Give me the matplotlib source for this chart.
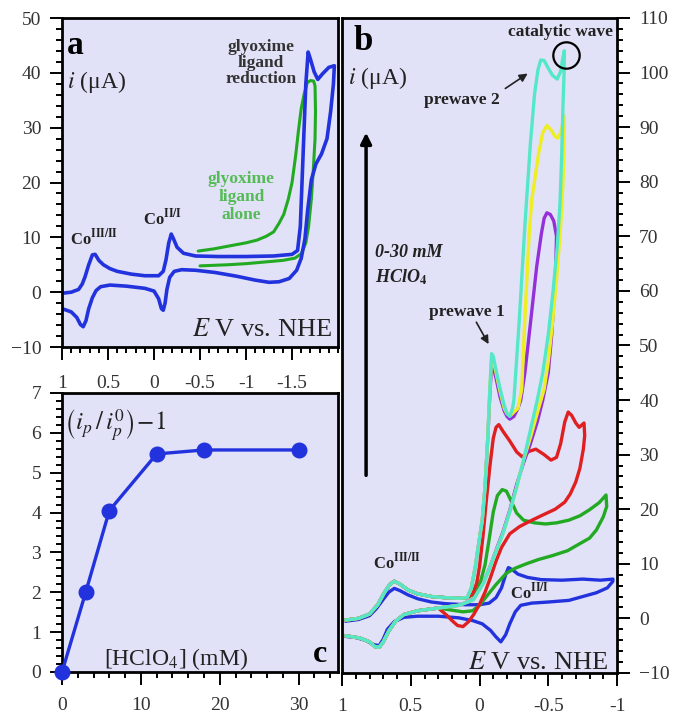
import matplotlib
matplotlib.use("Agg")
import matplotlib.pyplot as plt
from matplotlib.ticker import MultipleLocator, FixedLocator
import numpy as np

plt.rcParams['font.family'] = ['Liberation Serif', 'DejaVu Serif']
plt.rcParams['mathtext.fontset'] = 'stix'

# ---------------- Panel a data (E in V vs NHE, i in uA) ----------------
a_blue_E = [1.0, 0.90, 0.82, 0.78, 0.75, 0.71, 0.67, 0.64, 0.60, 0.55, 0.48, 0.40, 0.25, 0.10, -0.05,
            -0.10, -0.13, -0.16, -0.187, -0.21, -0.25, -0.32, -0.45, -0.70, -1.0, -1.3, -1.50, -1.56,
            -1.59, -1.62, -1.65, -1.675, -1.70, -1.74, -1.78, -1.83, -1.90, -1.96,
            -1.95, -1.92, -1.88, -1.82, -1.76, -1.71, -1.67, -1.64, -1.60, -1.55, -1.47, -1.36, -1.25,
            -1.10, -0.90, -0.66, -0.45, -0.30, -0.22, -0.17, -0.14, -0.12, -0.10, -0.08, -0.05, 0.0,
            0.1, 0.3, 0.48, 0.58, 0.63, 0.67, 0.71, 0.74, 0.77, 0.80, 0.84, 0.90, 1.0]
a_blue_i = [-0.2, 0.0, 0.5, 1.5, 2.8, 5.0, 6.8, 6.9, 5.8, 5.0, 4.3, 3.8, 3.3, 3.0, 3.0,
            3.8, 5.9, 9.0, 10.6, 9.8, 8.2, 7.1, 6.6, 6.5, 6.5, 6.6, 6.9, 7.6,
            12, 25, 38, 43.8, 42.5, 40.2, 38.8, 39.8, 41.0, 41.3,
            38, 33, 28, 25.2, 23.4, 20.5, 15, 9.7, 6.2, 4.0, 2.5, 1.9, 1.8,
            2.2, 2.9, 3.6, 4.0, 4.1, 3.8, 2.7, 0.5, -2.0, -3.3, -3.0, -1.2, 0.2,
            0.7, 1.1, 1.3, 1.0, 0.3, -1.0, -3.0, -5.2, -6.3, -5.9, -4.6, -3.6, -3.0]

a_green_E = [-0.48, -0.65, -0.84, -1.0, -1.12, -1.22, -1.30, -1.36, -1.41, -1.46, -1.50, -1.54, -1.57,
             -1.60, -1.63, -1.665, -1.70, -1.735, -1.75,
             -1.755, -1.75, -1.73, -1.71, -1.68, -1.65, -1.60, -1.53, -1.40, -1.2, -1.0, -0.8, -0.65, -0.50]
a_green_i = [7.5, 7.9, 8.5, 9.0, 9.5, 10.2, 11.0, 12.6, 14.2, 17, 20, 25, 29.5,
             33.5, 36, 38.2, 38.6, 38.5, 37.6,
             33, 28, 22, 17, 12, 9, 7.0, 6.2, 5.8, 5.5, 5.2, 5.0, 4.9, 4.8]

# ---------------- Panel b data ----------------
# 0 mM HClO4
b_blue_E = [0.97, 0.88, 0.80, 0.75, 0.70, 0.66, 0.62, 0.58, 0.52, 0.45, 0.35, 0.25, 0.10, 0.0, -0.07,
            -0.12, -0.16, -0.19, -0.21, -0.24, -0.28, -0.35, -0.45, -0.60, -0.75, -0.88, -0.97,
            -0.97, -0.93, -0.85, -0.75, -0.65, -0.50, -0.38, -0.30, -0.26, -0.22, -0.19, -0.155,
            -0.12, -0.08, -0.02, 0.05, 0.15, 0.3, 0.45, 0.55, 0.62, 0.67, 0.70, 0.73, 0.77, 0.83, 0.90, 0.97]
b_blue_i = [-0.5, -0.2, 0.5, 1.8, 3.5, 4.8, 5.5, 5.1, 4.3, 3.6, 3.0, 2.7, 2.5, 2.5, 2.8,
            3.8, 5.6, 8.0, 9.3, 8.9, 8.1, 7.5, 7.1, 7.0, 7.2, 7.0, 7.2,
            6.8, 5.6, 4.7, 4.0, 3.3, 3.0, 2.8, 2.4, 1.2, -1.0, -3.0, -4.3,
            -3.4, -2.2, -1.0, -0.4, 0.1, 0.4, 0.4, 0.2, -0.6, -2.0, -3.8, -5.0, -4.8, -4.0, -3.5, -3.3]

# shared Co(III/II) region of the acid scans
acid_start_E = [0.97, 0.88, 0.80, 0.74, 0.69, 0.65, 0.62, 0.58, 0.52, 0.45, 0.35, 0.25, 0.15, 0.09]
acid_start_i = [-0.3, 0.0, 0.8, 2.5, 4.8, 6.3, 6.8, 6.3, 5.2, 4.5, 4.0, 3.8, 3.7, 3.8]
acid_end_E = [0.30, 0.45, 0.55, 0.61, 0.66, 0.70, 0.73, 0.76, 0.80, 0.87, 0.97]
acid_end_i = [1.9, 1.4, 0.7, -0.5, -2.3, -4.3, -5.3, -5.2, -4.3, -3.6, -3.2]

# 3 mM
b_green_E = [0.05, 0.02, -0.01, -0.04, -0.07, -0.10, -0.13, -0.165, -0.196, -0.23, -0.27, -0.32, -0.40,
             -0.48, -0.56, -0.65, -0.73, -0.80, -0.87, -0.92,
             -0.925, -0.90, -0.85, -0.80, -0.73, -0.64, -0.53, -0.43, -0.34, -0.26, -0.196, -0.12,
             -0.05, 0.0, 0.05, 0.12, 0.2]
b_green_i = [4.3, 5.3, 7.0, 9.8, 14.5, 19.5, 22.5, 23.6, 23.3, 21.5, 19.3, 18.0, 17.5,
             17.3, 17.5, 18.0, 18.8, 19.9, 21.2, 22.6,
             20.5, 18.6, 16.2, 14.7, 13.7, 12.4, 11.5, 10.8, 10.0, 9.2, 8.3, 6.2,
             4.0, 2.4, 1.4, 1.2, 1.5]
# 6 mM
b_red_E = [0.05, 0.02, 0.0, -0.025, -0.05, -0.076, -0.10, -0.12, -0.14, -0.17, -0.22, -0.27, -0.31,
           -0.36, -0.41, -0.47, -0.52, -0.56, -0.59, -0.62, -0.645, -0.67, -0.70, -0.725, -0.76,
           -0.765, -0.755, -0.73, -0.70, -0.66, -0.62, -0.55, -0.44, -0.35, -0.29, -0.22, -0.16,
           -0.12, -0.08, -0.04, 0.0, 0.04, 0.08, 0.12, 0.16, 0.20, 0.24]
b_red_i = [4.5, 6.5, 9.5, 15, 21.7, 28, 33, 35, 35.5, 34.3, 32.5, 30.5, 29.6,
           30.6, 31.0, 30.0, 29.0, 29.5, 32, 36, 37.8, 37.2, 35.8, 35.0, 35.8,
           33.5, 31.0, 27.5, 25.0, 22.8, 21.3, 20.0, 18.7, 17.6, 16.8, 15.5, 13.0,
           10.5, 7.5, 4.8, 2.6, 0.8, -0.6, -1.5, -1.3, -0.4, 0.6]
# 12 mM
b_purple_E = [0.06, 0.03, 0.01, -0.02, -0.04, -0.06, -0.075, -0.088, -0.10, -0.12, -0.15, -0.18, -0.20,
              -0.22, -0.25, -0.28, -0.30, -0.33, -0.37, -0.416, -0.45, -0.47, -0.49, -0.515, -0.54, -0.56,
              -0.555, -0.545, -0.525, -0.50, -0.46, -0.42, -0.37, -0.32, -0.27, -0.22, -0.17, -0.125,
              -0.08, -0.03, 0.045, 0.15]
b_purple_i = [5.5, 9.5, 13, 18, 24, 33, 41, 46.5, 46, 44, 40.5, 38, 37,
              36.5, 37, 38.5, 40, 45, 54, 64.5, 70.5, 73.3, 74.3, 74, 72.8, 70,
              65, 60, 52, 45, 40, 36, 32, 28.5, 24.5, 19.8, 15.8, 12.8,
              9.7, 6.6, 3.5, 2.4]
# 18 mM
b_yellow_E = [0.06, 0.03, 0.01, -0.02, -0.04, -0.06, -0.075, -0.088, -0.10, -0.12, -0.15, -0.18, -0.20,
              -0.225, -0.25, -0.28, -0.307, -0.33, -0.36, -0.38, -0.43, -0.46, -0.49, -0.52, -0.55, -0.57,
              -0.59, -0.605, -0.617,
              -0.615, -0.61, -0.60, -0.585, -0.56, -0.53, -0.50, -0.47, -0.43, -0.38, -0.32, -0.27, -0.22,
              -0.17, -0.125, -0.08, -0.03, 0.045, 0.15]
b_yellow_i = [5.5, 9.5, 13, 18, 24, 33, 42, 47.8, 47.3, 45, 41.5, 38.5, 37.5,
              37.2, 37.8, 38.5, 42, 55, 70, 76.7, 85.2, 89, 90.3, 89.5, 88.3, 88,
              89, 90.5, 92,
              88, 82, 76, 70, 62, 54, 47, 42, 38.5, 34, 29, 24, 19.5,
              15.5, 12.6, 9.6, 6.5, 3.4, 2.4]
# 30 mM
b_cyan_E = [0.06, 0.03, 0.01, -0.02, -0.04, -0.06, -0.075, -0.088, -0.10, -0.12, -0.15, -0.18, -0.20,
            -0.22, -0.24, -0.25, -0.29, -0.33, -0.37, -0.40, -0.425, -0.445, -0.47, -0.50, -0.53, -0.565,
            -0.59, -0.605, -0.617,
            -0.615, -0.607, -0.598, -0.585, -0.565, -0.535, -0.50, -0.46, -0.42, -0.37, -0.32, -0.27,
            -0.22, -0.17, -0.125, -0.08, -0.03, 0.045, 0.15]
b_cyan_i = [5.5, 9.5, 13, 18, 24, 33, 42, 48.5, 48, 45.5, 42, 39, 37.5,
            37, 38.5, 40, 55, 72, 87, 96, 100.5, 102.3, 102.2, 100.8, 99.5, 98.8,
            100.2, 102.5, 104,
            100, 94, 85, 76, 68, 60, 52, 45, 40, 34.5, 29, 24,
            19.5, 15.5, 12.6, 9.6, 6.5, 3.4, 2.4]

# ---------------- Panel c data ----------------
c_conc = [0, 3, 6, 12, 18, 30]
c_ratio = [0.0, 2.0, 4.05, 5.47, 5.57, 5.57]

# ---------------- styling ----------------
BG = '#E1E1F7'
BLUE = '#2233DD'
GREEN = '#22AA22'
RED = '#E02020'
PURPLE = '#9430D8'
YELLOW = '#EEEE22'
CYAN = '#55E8C8'
TXT = '#222222'
TICKC = '#333333'

fig = plt.figure(figsize=(6.75, 7.18), dpi=100)
ax_a = fig.add_axes([0.0919, 0.5167, 0.4089, 0.4582])
ax_c = fig.add_axes([0.0919, 0.0641, 0.4089, 0.3886])
ax_b = fig.add_axes([0.5067, 0.0627, 0.4074, 0.9123])

for ax in (ax_a, ax_b, ax_c):
    ax.set_facecolor(BG)
    for s in ax.spines.values():
        s.set_linewidth(2.0)
        s.set_color('black')
    ax.tick_params(which='both', direction='out', width=1.4, colors='black',
                   labelcolor=TICKC, labelsize=14)
    ax.tick_params(which='major', length=9)
    ax.tick_params(which='minor', length=4.5)

# ---- panel a ----
ax_a.plot(a_green_E, a_green_i, color=GREEN, lw=2.2, solid_capstyle='round')
ax_a.plot(a_blue_E, a_blue_i, color=BLUE, lw=2.6, solid_joinstyle='round')
ax_a.set_xlim(1, -2)
ax_a.set_ylim(-10, 50)
ax_a.xaxis.set_major_locator(FixedLocator([1, 0.5, 0, -0.5, -1, -1.5]))
ax_a.set_xticklabels(['1', '0.5', '0', '-0.5', '-1', '-1.5'])
ax_a.xaxis.set_minor_locator(MultipleLocator(0.1))
ax_a.yaxis.set_major_locator(MultipleLocator(10))
ax_a.yaxis.set_minor_locator(MultipleLocator(2))
ax_a.tick_params(axis='x', which='major', pad=11)
ax_a.tick_params(axis='y', which='major', pad=6)

ax_a.text(0.86, 45.0, 'a', fontsize=24, fontweight='bold', ha='center', va='center', color='black')
ax_a.text(0.95, 38.3, r'$i$ (μA)', fontsize=17, ha='left', va='center', color=TXT)
ax_a.text(-1.165, 41.8, 'glyoxime\nligand\nreduction', fontsize=12.5, fontweight='bold',
          ha='center', va='center', color='#333333', linespacing=1.0)
ax_a.text(-0.95, 17.4, 'glyoxime\nligand\nalone', fontsize=12.5, fontweight='bold',
          ha='center', va='center', color='#55BB55', linespacing=1.15)
ax_a.text(0.91, 9.9, r'Co$^{\mathbf{III/II}}$', fontsize=12, fontweight='bold',
          ha='left', va='center', color=TXT)
ax_a.text(0.12, 13.5, r'Co$^{\mathbf{II/I}}$', fontsize=12, fontweight='bold',
          ha='left', va='center', color=TXT)
ax_a.text(-1.93, -6.9, r'$E$ V vs. NHE', fontsize=19, ha='right', va='center', color=TXT)

# ---- panel b ----
ax_b.plot(b_blue_E, b_blue_i, color=BLUE, lw=2.4)
for E, I, col in [(b_green_E, b_green_i, GREEN), (b_red_E, b_red_i, RED),
                  (b_purple_E, b_purple_i, PURPLE), (b_yellow_E, b_yellow_i, YELLOW),
                  (b_cyan_E, b_cyan_i, CYAN)]:
    xs = acid_start_E + E + acid_end_E
    ys = acid_start_i + I + acid_end_i
    ax_b.plot(xs, ys, color=col, lw=2.4)
ax_b.set_xlim(1, -1)
ax_b.set_ylim(-10, 110)
ax_b.yaxis.tick_right()
ax_b.xaxis.set_major_locator(FixedLocator([1, 0.5, 0, -0.5, -1]))
ax_b.set_xticklabels(['1', '0.5', '0', '-0.5', '-1'])
ax_b.xaxis.set_minor_locator(MultipleLocator(0.1))
ax_b.yaxis.set_major_locator(MultipleLocator(10))
ax_b.yaxis.set_minor_locator(MultipleLocator(2))
ax_b.tick_params(axis='x', which='major', pad=9)
ax_b.tick_params(axis='y', which='major', pad=7)

ax_b.text(0.847, 105.6, 'b', fontsize=25, fontweight='bold', ha='center', va='center', color='black')
ax_b.text(0.956, 99.0, r'$i$ (μA)', fontsize=17, ha='left', va='center', color=TXT)
ax_b.text(-0.97, 107.4, 'catalytic wave', fontsize=12.5, fontweight='bold',
          ha='right', va='center', color=TXT)
ax_b.plot([-0.63], [103.2], marker='o', markersize=19, markerfacecolor='none',
          markeredgecolor='black', markeredgewidth=1.6)
ax_b.text(0.127, 95.0, 'prewave 2', fontsize=12.5, fontweight='bold',
          ha='center', va='center', color=TXT)
ax_b.annotate('', xy=(-0.367, 100.1), xytext=(-0.171, 96.8),
              arrowprops=dict(arrowstyle='-|>', color='#222222', lw=1.2, mutation_scale=12))
ax_b.text(0.09, 56.1, 'prewave 1', fontsize=12.5, fontweight='bold',
          ha='center', va='center', color=TXT)
ax_b.annotate('', xy=(-0.076, 49.8), xytext=(0.033, 54.7),
              arrowprops=dict(arrowstyle='-|>', color='#222222', lw=1.2, mutation_scale=12))
ax_b.annotate('', xy=(0.825, 89.5), xytext=(0.825, 25.7),
              arrowprops=dict(arrowstyle='-|>', color='black', lw=2.5, mutation_scale=16))
ax_b.text(0.76, 67.1, '0-30 mM', fontsize=13, fontweight='bold', fontstyle='italic',
          ha='left', va='center', color=TXT)
ax_b.text(0.76, 62.4, r'HClO$_\mathbf{4}$', fontsize=13, fontweight='bold', fontstyle='italic',
          ha='left', va='center', color=TXT)
ax_b.text(0.775, 10.2, r'Co$^{\mathbf{III/II}}$', fontsize=12, fontweight='bold',
          ha='left', va='center', color=TXT)
ax_b.text(-0.22, 4.7, r'Co$^{\mathbf{II/I}}$', fontsize=12, fontweight='bold',
          ha='left', va='center', color=TXT)
ax_b.text(-0.935, -8.2, r'$E$ V vs. NHE', fontsize=19, ha='right', va='center', color=TXT)

# ---- panel c ----
ax_c.plot(c_conc, c_ratio, color=BLUE, lw=2.4, marker='o', markersize=10.5,
          markerfacecolor=BLUE, markeredgecolor=BLUE, clip_on=False, zorder=5)
ax_c.set_xlim(0, 35)
ax_c.set_ylim(0, 7)
ax_c.xaxis.set_major_locator(FixedLocator([0, 10, 20, 30]))
ax_c.xaxis.set_minor_locator(MultipleLocator(2))
ax_c.yaxis.set_major_locator(MultipleLocator(1))
ax_c.yaxis.set_minor_locator(MultipleLocator(0.2))
ax_c.tick_params(axis='x', which='major', pad=9)
ax_c.tick_params(axis='y', which='major', pad=6)
ax_c.text(0.25, 6.2, r'$\left(i_p\,/\,i_p^{0}\right)\!-\!1$', fontsize=18, ha='left', va='center', color=TXT)
ax_c.text(14.5, 0.32, r'[HClO$_4$] (mM)', fontsize=17, ha='center', va='center', color=TXT)
ax_c.text(32.7, 0.43, 'c', fontsize=23, fontweight='bold', ha='center', va='center', color='black')

fig.savefig('out.png', dpi=100)
